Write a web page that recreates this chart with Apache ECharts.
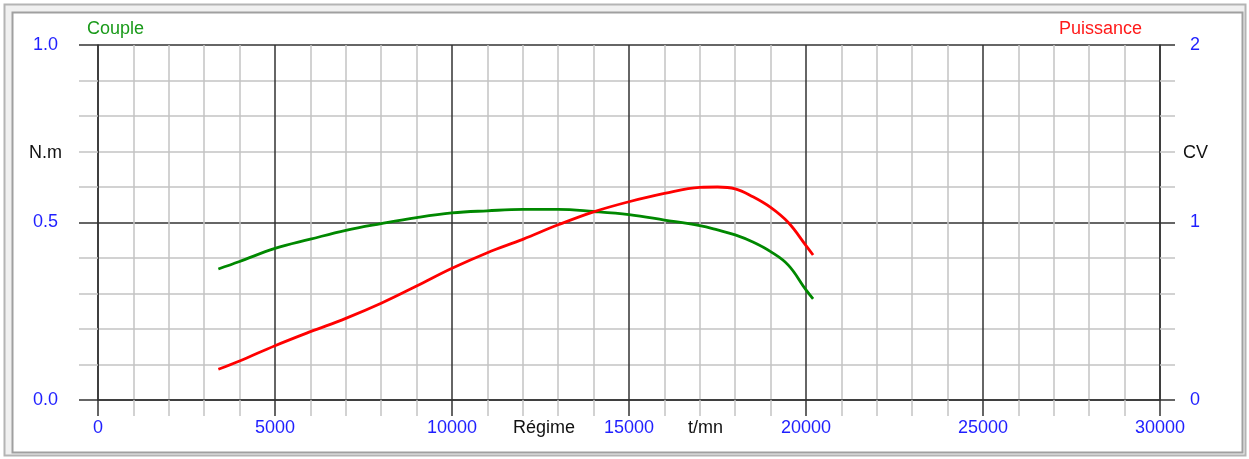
<!DOCTYPE html>
<html>
<head>
<meta charset="utf-8">
<title>Couple / Puissance</title>
<script src="https://cdn.jsdelivr.net/npm/echarts@6/dist/echarts.min.js"></script>
<style>
    html, body { margin: 0; padding: 0; background: #fff; }
    .box { width: 1249px; height: 459px; }
</style>
</head>
<body>
<div class="box"></div>
<script>
// régime (t/mn)
const rpm = [3400, 4000, 5000, 6000, 7000, 8000, 9000, 10000, 11000, 12000, 13000, 14000,
    15000, 16000, 17000, 17500, 18000, 18500, 19000, 19500, 20000, 20200];
// couple (N.m), axe de gauche
const couple = [0.369, 0.39, 0.427, 0.453, 0.478, 0.497, 0.514, 0.527, 0.533, 0.537, 0.537, 0.531,
    0.522, 0.507, 0.491, 0.479, 0.465, 0.445, 0.418, 0.38, 0.31, 0.285];
// puissance (CV), axe de droite
const puissance = [0.173, 0.22, 0.306, 0.385, 0.46, 0.545, 0.642, 0.742, 0.83, 0.905, 0.987, 1.06,
    1.117, 1.164, 1.198, 1.2, 1.19, 1.145, 1.085, 1.0, 0.87, 0.817];

; (function () {
    const FONT = "'Liberation Sans', Arial, sans-serif",
        BLUE = '#1f1fff',
        BLACK = '#333',
        GRAY = '#c4c4c4';

    init();

    function init() {
        renderChart();
    }

    function pairs(xs, ys) {
        return xs.map((x, i) => [x, ys[i]]);
    }

    function text(x, y, str, color, align) {
        return {
            type: 'text',
            x: x,
            y: y,
            z: 10,
            style: {
                text: str,
                fill: color,
                font: '18px ' + FONT,
                textAlign: align || 'left',
                textVerticalAlign: 'middle'
            }
        };
    }

    function renderChart() {
        const chartDom = document.getElementsByClassName('box')[0];
        const myChart = echarts.init(chartDom);

        const tickCommon = {
            axisLabel: { color: BLUE, fontSize: 18, fontFamily: FONT },
            minorTick: { show: true, splitNumber: 5, lineStyle: { color: GRAY, width: 1.5 } },
            axisLine: { show: true, lineStyle: { color: BLACK, width: 1.5 } }
        };

        const option = {
            animation: false,
            backgroundColor: '#fff',
            graphic: [
                // cadre
                {
                    type: 'rect', z: -10, silent: true,
                    shape: { x: 4.5, y: 4.5, width: 1241, height: 451 },
                    style: { fill: '#f0f0f0', stroke: '#b4b4b4', lineWidth: 2 }
                },
                {
                    type: 'rect', z: -9, silent: true,
                    shape: { x: 12.5, y: 12.5, width: 1230, height: 440 },
                    style: { fill: '#fff', stroke: '#a0a0a0', lineWidth: 2 }
                },
                text(87, 29, 'Couple', '#1a9a1a'),
                text(1142, 29, 'Puissance', '#ff1a1a', 'right'),
                text(62, 153, 'N.m', '#111', 'right'),
                text(1183, 153, 'CV', '#111'),
                text(513, 428, 'Régime', '#111'),
                text(688, 428, 't/mn', '#111')
            ],
            grid: {
                left: 98,
                top: 45,
                width: 1062,
                height: 355
            },
            xAxis: Object.assign({}, tickCommon, {
                type: 'value',
                min: 0,
                max: 30000,
                interval: 5000,
                axisLabel: Object.assign({}, tickCommon.axisLabel, {
                    margin: 19,
                    formatter: v => String(v)
                }),
                axisTick: { show: true, length: 16, lineStyle: { color: BLACK, width: 1.5 } },
                minorTick: Object.assign({}, tickCommon.minorTick, { length: 16 }),
                splitLine: { show: true, lineStyle: { color: BLACK, width: 1.5 } },
                minorSplitLine: { show: true, lineStyle: { color: GRAY, width: 1.5 } }
            }),
            yAxis: [
                Object.assign({}, tickCommon, {
                    type: 'value',
                    position: 'left',
                    min: 0,
                    max: 1,
                    interval: 0.5,
                    axisLabel: Object.assign({}, tickCommon.axisLabel, {
                        margin: 40,
                        formatter: v => v.toFixed(1)
                    }),
                    axisTick: { show: true, length: 19, lineStyle: { color: BLACK, width: 1.5 } },
                    minorTick: Object.assign({}, tickCommon.minorTick, { length: 19 }),
                    splitLine: { show: true, lineStyle: { color: BLACK, width: 1.5 } },
                    minorSplitLine: { show: true, lineStyle: { color: GRAY, width: 1.5 } }
                }),
                Object.assign({}, tickCommon, {
                    type: 'value',
                    position: 'right',
                    min: 0,
                    max: 2,
                    interval: 1,
                    axisLabel: Object.assign({}, tickCommon.axisLabel, { margin: 30 }),
                    axisTick: { show: true, length: 15, lineStyle: { color: BLACK, width: 1.5 } },
                    minorTick: Object.assign({}, tickCommon.minorTick, { length: 15 }),
                    splitLine: { show: false },
                    minorSplitLine: { show: false }
                })
            ],
            series: [
                {
                    name: 'Couple',
                    type: 'line',
                    yAxisIndex: 0,
                    data: pairs(rpm, couple),
                    smooth: 0.4,
                    showSymbol: false,
                    lineStyle: { color: '#008800', width: 2.8 },
                    z: 5
                },
                {
                    name: 'Puissance',
                    type: 'line',
                    yAxisIndex: 1,
                    data: pairs(rpm, puissance),
                    smooth: 0.4,
                    showSymbol: false,
                    lineStyle: { color: '#ff0000', width: 2.8 },
                    z: 6
                }
            ]
        };

        myChart.setOption(option);
    }
})()
</script>
</body>
</html>
